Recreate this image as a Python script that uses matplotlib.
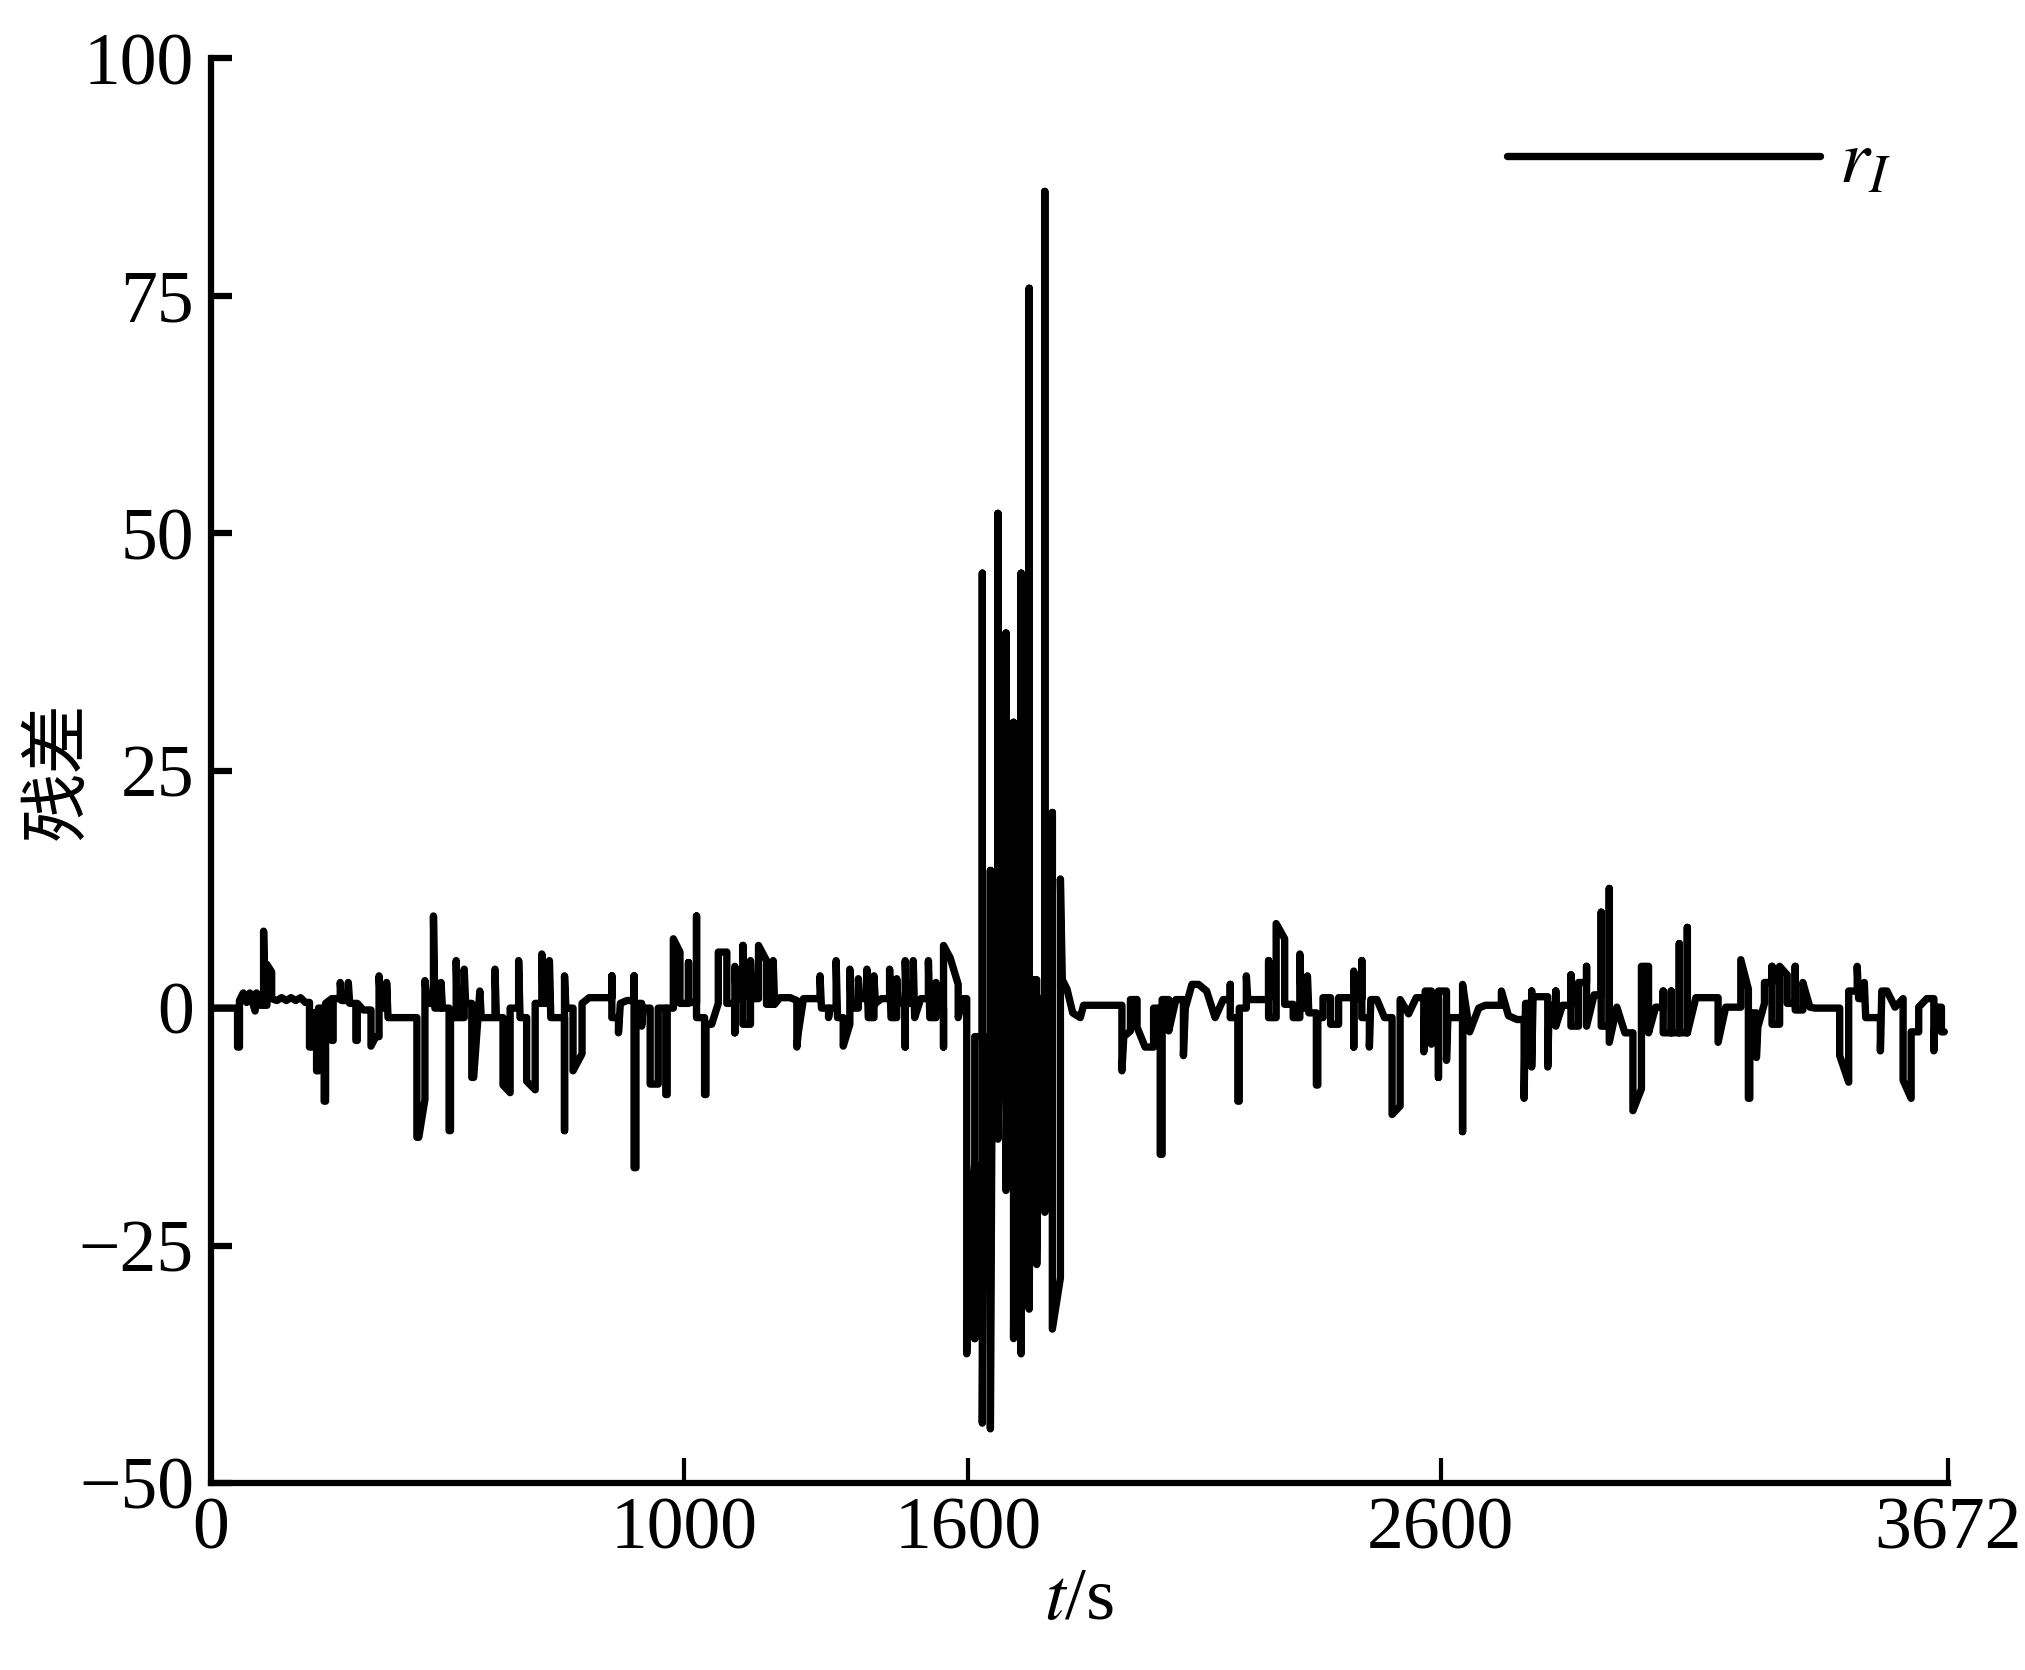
import numpy as np
import matplotlib
matplotlib.use("Agg")
from matplotlib import pyplot as plt

# residual r_I, vertices (t [s], value)
pre_pts = np.array([
    (5, 0), (57, 0), (57, -4.1), (61, -4.1), (61, 0.8), (69, 1.6), (76, 0.6), (83, 1.6),
    (94, -0.3), (97, 1.6), (105, 0.3), (112, 0.3), (112, 8.1), (115, 0.3), (119, 0.3),
    (119, 4.6), (129, 3.8), (129, 1.0), (140, 0.8), (150, 1.1), (160, 0.8), (170, 1.1),
    (180, 0.8), (190, 1.1), (200, 0.6), (209, 0.6), (209, -4.1), (214, -4.1), (214, -0.5),
    (224, -0.5), (224, -6.6), (228, -6.6), (228, 0), (240, 0), (240, -9.8), (243, -9.8),
    (243, 0.5), (256, 1.0), (256, -3.4), (259, -3.4), (259, 1.0), (274, 1.0), (274, 2.7),
    (277, 0.8), (291, 0.8), (291, 2.7), (294, 0.5), (307, 0.5), (307, -3.4), (310, -3.4),
    (310, 0.5), (323, -0.2), (339, -0.2), (339, -4.0), (349, -3.0), (356, -3.0), (356, 3.4),
    (360, 0), (372, 0), (372, 2.7), (375, -1), (388, -1), (404, -1), (420, -1), (436, -1),
    (436, -13.6), (440, -13.6), (453, -9.6), (453, 2.9), (458, 0.5), (471, 0.5), (471, 9.7),
    (474, 0), (487, 0), (487, 2.7), (490, 0), (504, 0), (504, -12.9), (507, -12.9), (507, -1),
    (519, -1), (519, 5.0), (522, -1), (536, -1), (536, 4.1), (539, 0.5), (552, 0.5),
    (552, -7.3), (556, -7.3), (569, 1.8), (572, -1), (585, -1), (601, -1), (601, 4.1),
    (604, -1), (618, -1), (618, -8.1), (633, -8.9), (633, 0), (651, 0), (651, 5.0), (654, -1),
    (668, -1), (668, -7.7), (686, -8.6), (686, 0.5), (700, 0.5), (700, 5.7), (703, 0.5),
    (716, 0.5), (716, 5.0), (719, -1), (732, -1), (748, -1), (748, -12.9), (748, 3.4),
    (751, 0), (766, 0), (766, -6.6), (785, -4.8), (785, 0.5), (800, 1.1), (835, 1.1),
    (848, 1.1), (848, 3.4), (848, -1), (862, -1), (862, -2.6), (866, 0.5), (880, 0.8),
    (895, 0.8), (895, 3.4), (895, -16.8), (899, -16.8), (899, 0.5), (911, 0.5), (911, -1.9),
    (914, 0), (929, 0), (929, -8), (946, -8), (946, 0), (962, 0), (962, -9.1), (965, -9.1),
    (965, 0), (978, 0), (978, 7.3), (992, 5.9), (992, 0.5), (1010, 0.5), (1010, 4.8),
    (1010, 0.6), (1027, 0.6), (1027, 9.7), (1027, -1), (1044, -1), (1044, -9.1), (1047, -9.1),
    (1047, -1.7), (1059, -1.7), (1073, 0.5), (1073, 5.9), (1091, 5.9), (1091, 0.5),
    (1108, 0.5), (1108, -2.6), (1108, 4.4), (1111, 1), (1125, 1), (1125, 6.6), (1125, -1.7),
    (1141, -1.7), (1141, 5), (1144, 1), (1158, 1), (1158, 6.6), (1175, 5), (1175, 0.4),
    (1189, 0.4), (1189, 5), (1192, 0.4), (1203, 1.1), (1225, 1.1), (1239, 0.8), (1239, -4.1),
    (1242, -2.6), (1253, 1), (1270, 1), (1288, 1), (1288, 3.4), (1291, 0), (1306, 0),
    (1306, -1), (1309, 0), (1322, 0), (1322, 5), (1325, -1), (1337, -1), (1337, -4),
    (1351, -1.7), (1351, 4.1), (1354, 0), (1369, 0), (1369, 3.1), (1372, 1), (1387, 1),
    (1387, 4.1), (1390, -1), (1402, -1), (1402, 3.4), (1405, 0.5), (1418, 1), (1435, 1),
    (1435, 4.1), (1438, -1), (1450, -1), (1450, 3.1), (1453, 0.5), (1468, 0.5), (1468, -4.1),
    (1468, 5), (1471, 0.5), (1485, 0.5), (1485, 5), (1488, -1), (1501, 1), (1517, 1),
    (1517, 5), (1520, -1), (1533, -1), (1533, 2.7), (1536, 0), (1549, 0), (1549, -4.1),
    (1549, 6.6), (1563, 5.3), (1580, 2.5), (1580, -1), (1590, 1), (1596, 1),
])

fault_pts = np.array([
    (1598, 1), (1598, -36.4), (1606, -22), (1615, -16.3), (1615, -34.8), (1615, -3),
    (1631, -3), (1631, 45.8), (1631, -43.7), (1635, -3), (1648, -3), (1648, 14.5),
    (1648, -44.3), (1652, -4), (1664, -4), (1664, 52.1), (1664, -13.8), (1668, -2),
    (1681, -2), (1681, 39.5), (1681, -19.2), (1685, 3), (1697, 3), (1697, 30.1),
    (1697, -34.8), (1701, 0), (1713, 0), (1713, 45.8), (1713, -36.4), (1717, 0), (1730, 0),
    (1730, 75.8), (1730, -31.7), (1734, 3), (1746, 3), (1746, -27), (1750, 1), (1763, 1),
    (1763, 86), (1763, -21.5), (1767, 2), (1779, 2), (1779, 20.6), (1779, -33.8),
    (1796, -28.4), (1796, 13.6), (1800, 3), (1810, 2), (1822, -0.5),
])

post_pts = np.array([
    (1838, -1), (1845, 0.3), (1908, 0.3), (1926, 0.3), (1926, -6.6), (1930, -3),
    (1944, -2.4), (1944, 0.9), (1958, 0.9), (1958, -2), (1975, -4.1), (1993, -4.1),
    (1993, 0), (2007, 0), (2007, -15.4), (2011, -15.4), (2011, 0.9), (2025, 0.9),
    (2025, -2.4), (2040, 0.9), (2056, 0.9), (2056, -5), (2060, 0), (2074, 2.5), (2088, 2.5),
    (2105, 1.8), (2123, -1), (2140, 0.9), (2155, 0.9), (2155, 2.5), (2155, -1), (2171, -1),
    (2171, -9.8), (2174, -9.8), (2174, 0), (2189, 0), (2189, 3.4), (2192, 0.9), (2220, 0.9),
    (2236, 0.9), (2236, 5), (2236, -1), (2252, -1), (2252, 8.9), (2270, 7.3), (2270, 0.4),
    (2288, 0.4), (2288, -1), (2302, -1), (2302, 5.7), (2305, 0), (2318, 0), (2318, 3.4),
    (2321, -0.5), (2337, -0.5), (2337, -8.1), (2340, -8.1), (2340, -1), (2351, -1),
    (2351, 1.1), (2367, 1.1), (2367, -1.7), (2384, -1.7), (2384, 1.1), (2399, 1.1),
    (2416, 1.1), (2416, -4.1), (2416, 3.9), (2419, 1), (2433, 1), (2433, 5), (2433, -1),
    (2449, -1), (2449, -4.1), (2452, 0.9), (2465, 0.9), (2481, -1), (2497, -1),
    (2497, -11.2), (2514, -10.3), (2514, 0.9), (2532, -0.6), (2548, 1.1), (2564, 1.1),
    (2564, -4.6), (2567, 1.8), (2580, 1.8), (2580, -3.8), (2583, 1), (2595, 1), (2595, -7.3),
    (2595, 1.8), (2612, 1.8), (2612, -5.5), (2615, -1), (2629, -1), (2646, -1), (2646, -13),
    (2646, 2.5), (2661, -2.5), (2680, 0), (2694, 0.3), (2717, 0.3), (2728, 0.3), (2728, 1.8),
    (2743, -0.8), (2761, -1.2), (2776, -1.2), (2776, -9.5), (2779, 0.5), (2792, 0.5),
    (2792, 1.8), (2792, -6.2), (2795, 1.2), (2809, 1.2), (2826, 1.2), (2826, -6.2),
    (2829, 0.3), (2843, 0.3), (2843, 1.8), (2843, -1.9), (2857, 0.3), (2875, 0.3),
    (2875, 3.5), (2875, -1.9), (2891, -1.9), (2891, 2.7), (2908, 2.7), (2908, 4.4),
    (2908, -1.9), (2924, 1.4), (2939, 1.4), (2939, 10.1), (2939, -1.9), (2956, -1.9),
    (2956, 12.6), (2956, -3.6), (2972, 0.1), (2989, -2.6), (3006, -2.6), (3006, -10.8),
    (3024, -8.5), (3024, 4.4), (3039, 4.4), (3039, -2.6), (3054, 0.1), (3070, 0.1),
    (3070, 1.8), (3070, -2.6), (3087, -2.6), (3087, 1.8), (3087, -2.6), (3104, -2.6),
    (3104, 6.8), (3104, -2.6), (3121, -2.6), (3121, 8.5), (3121, -2.6), (3139, 1.1),
    (3170, 1.1), (3186, 1.1), (3186, -3.6), (3202, 0.1), (3219, 0.1), (3234, 0.1),
    (3234, 5.1), (3250, 2.0), (3250, -9.5), (3253, -9.5), (3253, -0.5), (3267, -0.5),
    (3267, -5.2), (3270, -2), (3284, 0.5), (3284, 2.7), (3300, 2.7), (3300, 4.4),
    (3300, -1.7), (3316, -1.7), (3316, 4.4), (3332, 3.5), (3332, 0.5), (3349, 0.5),
    (3349, 4.4), (3349, -0.2), (3365, -0.2), (3365, 2.7), (3380, 0.1), (3391, 0), (3436, 0),
    (3443, 0), (3443, -5), (3462, -7.8), (3462, 1.8), (3480, 1.8), (3480, 4.4), (3483, 1),
    (3495, 1), (3495, 2.7), (3498, -1), (3512, -1), (3529, -1), (3529, -4.5), (3532, 1.8),
    (3543, 1.8), (3560, 0.1), (3577, 1), (3577, -7.6), (3594, -9.5), (3594, -2.5),
    (3610, -2.5), (3610, 0.1), (3627, 1), (3642, 1), (3642, -4.5), (3645, 0.1), (3658, 0.1),
    (3658, -2.5), (3664, -2.5),
])

x_ticks = [0, 1000, 1600, 2600, 3672]
y_ticks = [-50, -25, 0, 25, 50, 75, 100]

plt.rcParams['font.family'] = ['Liberation Serif', 'DejaVu Sans']
plt.rcParams['mathtext.fontset'] = 'stix'

pts = np.vstack([pre_pts, fault_pts, post_pts])

fig = plt.figure(figsize=(20.25, 16.7), dpi=100)
ax = fig.add_axes([0.104, 0.112, 0.858, 0.853])
ax.plot(pts[:, 0], pts[:, 1], color='black', linewidth=5.3,
        solid_joinstyle='round', solid_capstyle='round', label='$r_I$')

ax.set_xlim(0, 3672)
ax.set_ylim(-50, 100)
ax.set_xticks(x_ticks)
ax.set_yticks(y_ticks)
for s in ['top', 'right']:
    ax.spines[s].set_visible(False)
for s in ['left', 'bottom']:
    ax.spines[s].set_linewidth(4.5)
ax.tick_params(axis='y', direction='in', length=15, width=4.5, labelsize=53, pad=12)
ax.tick_params(axis='x', direction='in', length=18, width=3, labelsize=53, pad=10)

ax.set_xlabel('$t$/s', fontsize=54, labelpad=2)
ax.set_ylabel('残差', fontsize=50, family=['Noto Sans CJK SC', 'DejaVu Sans'])
ax.yaxis.label.set_verticalalignment('center')
ax.yaxis.set_label_coords(-0.088, 0.5)

ax.legend(loc='center left', bbox_to_anchor=(0.744, 0.902), bbox_transform=fig.transFigure,
          frameon=False, fontsize=55, handlelength=4.1, handletextpad=0.25,
          borderpad=0, borderaxespad=0)

plt.savefig('out.png', dpi=100)
plt.close()
